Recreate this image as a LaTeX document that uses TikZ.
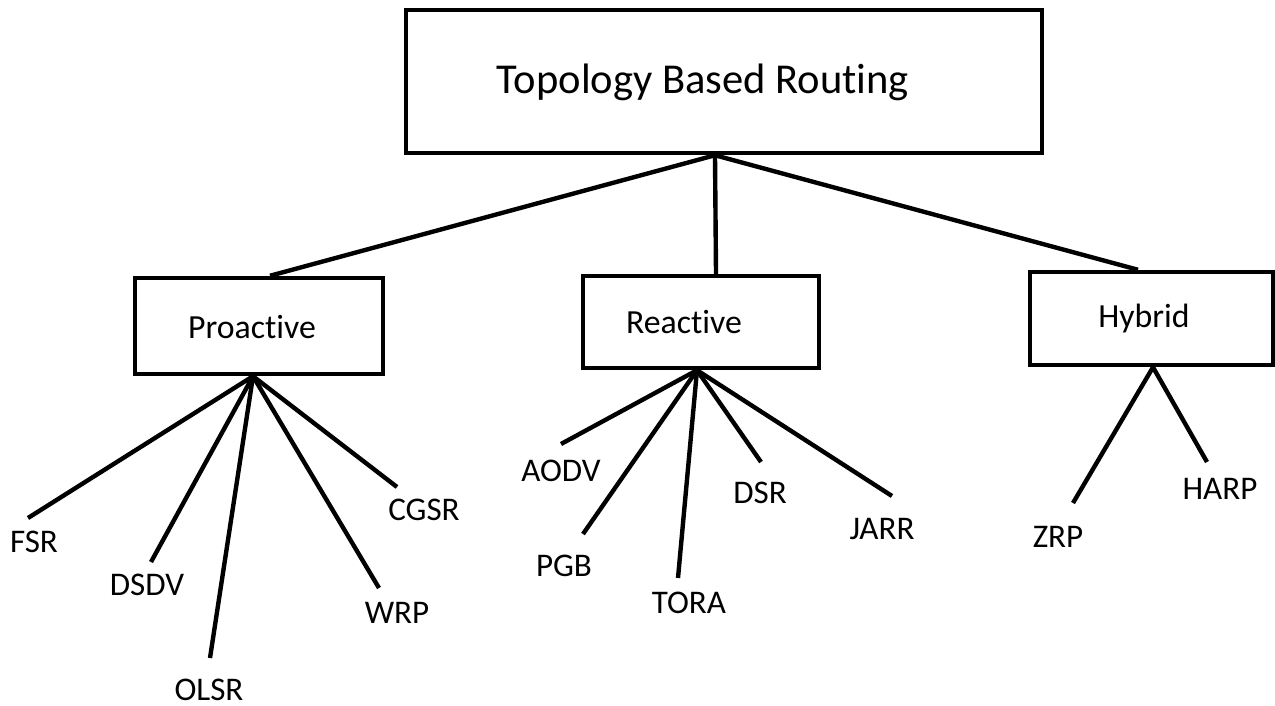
\documentclass[tikz,border=0pt]{standalone}
\usepackage{fontspec}
\setmainfont{Carlito}[Ligatures={NoCommon}]
% keep the letters t and i apart (no ti ligature)
\newcommand{\tisep}{t\kern0pt i}
\begin{document}
\begin{tikzpicture}[x=0.01cm, y=-0.01cm,
  box/.style={draw, line width=1.25pt, rectangle, inner sep=0pt},
  link/.style={line width=1.25pt},
  title/.style={font=\fontsize{12.1}{15}\selectfont, inner sep=0pt},
  head/.style={font=\fontsize{9.6}{12}\selectfont, inner sep=0pt},
  leaf/.style={font=\fontsize{9.4}{12}\selectfont, inner sep=0pt}]
\useasboundingbox (0,0) rectangle (1275,706);

% boxes
\node[box, minimum width=6.36cm, minimum height=1.43cm] (top) at (724,81.5) {};
\node[box, minimum width=2.48cm, minimum height=0.96cm] (pro) at (259,326) {};
\node[box, minimum width=2.36cm, minimum height=0.92cm] (rea) at (701,322) {};
\node[box, minimum width=2.43cm, minimum height=0.93cm] (hyb) at (1151.5,318.5) {};

% box captions
\node[title] (ttop) at (703,82) {Topology Based Rou\tisep ng};
\node[head] (tpro) at (252,327) {Proac\tisep ve};
\node[head] (trea) at (684,322) {Reac\tisep ve};
\node[head] (thyb) at (1144,318) {Hybrid};

% first level
\coordinate (foot) at ([xshift=-0.09cm]top.south);
\draw[link] (foot) -- ([xshift=0.11cm]pro.north);
\draw[link] (foot) -- ([xshift=0.15cm]rea.north);
\draw[link] (foot) -- ([xshift=-0.135cm]hyb.north);

% apexes
\coordinate (pa) at ([xshift=-0.06cm]pro.south);
\coordinate (ra) at ([xshift=-0.04cm]rea.south);
\coordinate (ha) at ([xshift=0.015cm]hyb.south);

% proactive protocols
\node[leaf] (fsr) at (34,542) {FSR};
\node[leaf] (dsdv) at (147,585) {DSDV};
\node[leaf] (olsr) at (209,690) {OLSR};
\node[leaf] (wrp) at (397,613) {WRP};
\node[leaf] (cgsr) at (424,510) {CGSR};
\coordinate (efsr) at (28,518);
\coordinate (edsdv) at (151,562);
\coordinate (eolsr) at (210,658);
\coordinate (ewrp) at (379,588);
\coordinate (ecgsr) at (397,487);
\foreach \e in {efsr,edsdv,eolsr,ewrp,ecgsr} \draw[link] (pa) -- (\e);

% reactive protocols
\node[leaf] (aodv) at (561,471) {AODV};
\node[leaf] (pgb) at (564,566) {PGB};
\node[leaf] (tora) at (689,603) {TORA};
\node[leaf] (dsr) at (760,493) {DSR};
\node[leaf] (jarr) at (882,529) {JARR};
\coordinate (eaodv) at (561,444);
\coordinate (epgb) at (583,534);
\coordinate (etora) at (678,578);
\coordinate (edsr) at (761,462);
\coordinate (ejarr) at (892,496);
\foreach \e in {eaodv,epgb,etora,edsr,ejarr} \draw[link] (ra) -- (\e);

% hybrid protocols
\node[leaf] (zrp) at (1058,537) {ZRP};
\node[leaf] (harp) at (1220,489) {HARP};
\coordinate (ezrp) at (1073,503);
\coordinate (eharp) at (1207,462);
\foreach \e in {ezrp,eharp} \draw[link] (ha) -- (\e);
\end{tikzpicture}
\end{document}
